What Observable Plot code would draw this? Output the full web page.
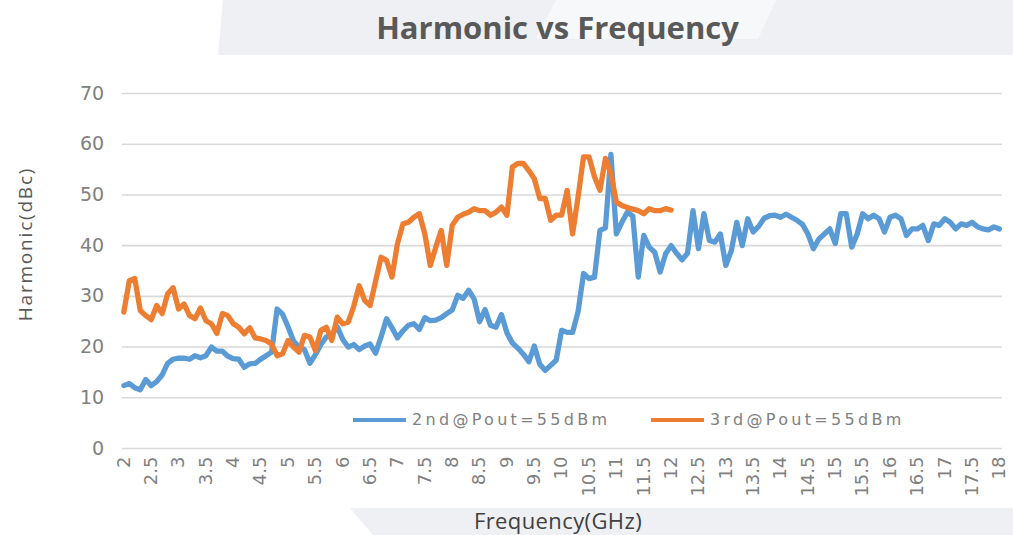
<!DOCTYPE html>
<html><head><meta charset="utf-8">
<script src="https://cdn.jsdelivr.net/npm/d3@7"></script>
<script src="https://cdn.jsdelivr.net/npm/@observablehq/plot@0.6"></script>
<style>
body{margin:0;background:#fff;}
#wrap{position:relative;width:1013px;height:535px;overflow:hidden;background:#fff;}
#bg{position:absolute;left:0;top:0;}
#chart{position:absolute;left:0;top:0;}
#title{position:absolute;top:6px;left:0;width:1115px;text-align:center;font-family:"Open Sans",sans-serif;font-weight:700;font-size:31px;color:#595959;letter-spacing:0px;}
#ylab{position:absolute;left:25px;top:244px;transform:translate(-50%,-50%) rotate(-90deg);font-family:"Open Sans",sans-serif;font-size:19px;letter-spacing:1.8px;color:#595959;white-space:nowrap;}
#xlab{position:absolute;left:558px;top:505px;transform:translateX(-50%);font-family:"Open Sans",sans-serif;font-size:22px;letter-spacing:0.4px;color:#404040;white-space:nowrap;}
.leg{position:absolute;top:410px;display:flex;align-items:center;font-family:"DejaVu Sans",sans-serif;font-size:16px;color:#808080;letter-spacing:3.3px;white-space:nowrap;}
.leg i{display:inline-block;width:53px;height:4px;margin-right:6px;}
</style></head>
<body>
<div id="wrap">
<svg id="bg" width="1013" height="535">
  <polygon points="223,0 1013,0 1013,55 218,55" fill="#eff0f4"/>
  <polygon points="556,0 776,0 758,39 536,39" fill="#f7f8fa"/>
  <polygon points="350,508 1013,508 1013,535 373,535" fill="#eff0f4"/>
</svg>
<div id="chart"></div>
<div id="title">Harmonic vs Frequency</div>
<div id="ylab">Harmonic(dBc)</div>
<div id="xlab">Frequency(GHz)</div>
<div class="leg" style="left:353px"><i style="background:#5B9BD5"></i><span id="l1"></span></div>
<div class="leg" style="left:651px"><i style="background:#ED7D31"></i><span id="l2"></span></div>
</div>
<script>
const seriesNames = ["2nd@Pout=55dBm", "3rd@Pout=55dBm"];
const seriesColors = ["#5B9BD5", "#ED7D31"];
const yTicks = [0, 10, 20, 30, 40, 50, 60, 70];
const xTicks = [2,2.5,3,3.5,4,4.5,5,5.5,6,6.5,7,7.5,8,8.5,9,9.5,10,10.5,11,11.5,12,12.5,13,13.5,14,14.5,15,15.5,16,16.5,17,17.5,18];
// frequency grid, GHz (0.1 GHz step)
const freqs = d3.range(161).map(i => Math.round(20 + i) / 10);
// 2nd harmonic, dBc, 2.0..18.0 GHz
const second = [
12.4,12.8,12.0,11.6,13.6,12.4,13.2,14.5,16.8,17.6,
17.8,17.8,17.6,18.3,17.9,18.3,20.0,19.2,19.2,18.2,
17.7,17.6,16.0,16.7,16.8,17.6,18.3,19.0,27.5,26.5,
24.0,21.2,20.0,19.5,16.8,18.5,20.5,22.0,22.5,24.0,
21.5,20.0,20.5,19.5,20.2,20.6,18.8,22.0,25.6,23.8,
21.8,23.2,24.3,24.6,23.5,25.8,25.2,25.3,25.8,26.6,
27.3,30.2,29.6,31.2,29.5,25.0,27.4,24.3,23.9,26.4,
22.8,20.8,19.8,18.6,17.1,20.2,16.6,15.4,16.4,17.4,
23.3,22.9,22.9,27.0,34.5,33.5,33.8,43.0,43.5,58.0,
42.3,44.6,46.6,45.8,33.8,42.0,39.7,38.7,34.8,38.4,
40.0,38.5,37.2,38.5,46.9,39.4,46.3,41.0,40.7,42.3,
36.1,39.0,44.6,40.0,45.3,42.7,43.8,45.4,45.9,46.0,
45.6,46.2,45.6,45.0,44.2,42.3,39.4,41.3,42.3,43.3,
40.4,46.3,46.3,39.7,42.3,46.3,45.3,46.0,45.3,42.7,
45.6,46.0,45.3,42.0,43.3,43.3,44.0,41.0,44.3,44.0,
45.3,44.6,43.3,44.3,44.0,44.6,43.7,43.3,43.1,43.7,
43.3];
// 3rd harmonic, dBc, 2.0..12.0 GHz
const third = [
26.9,33.1,33.5,27.2,26.2,25.4,28.2,26.6,30.5,31.7,
27.5,28.5,26.2,25.6,27.7,25.2,24.6,22.7,26.6,26.2,
24.6,23.9,22.6,23.8,21.8,21.6,21.3,20.6,18.3,18.7,
21.3,20.0,19.0,22.3,22.0,19.3,23.3,23.9,21.3,25.9,
24.6,24.9,28.0,32.1,29.2,28.2,33.0,37.7,37.1,33.8,
40.4,44.3,44.6,45.6,46.3,42.3,36.1,39.7,43.0,36.1,
44.0,45.6,46.2,46.6,47.3,46.9,46.9,46.0,46.6,47.6,
46.0,55.5,56.2,56.2,54.8,53.2,49.3,49.3,45.0,46.0,
46.0,50.9,42.3,49.6,57.5,57.5,53.6,50.9,57.2,54.2,
48.6,47.9,47.5,47.2,46.9,46.3,47.3,46.9,46.9,47.3,
47.0];

const rows = [
  ...second.map((v, i) => ({f: freqs[i], v, s: seriesNames[0]})),
  ...third.map((v, i) => ({f: freqs[i], v, s: seriesNames[1]}))
];

const chart = Plot.plot({
  width: 1013, height: 535,
  marginTop: 93, marginBottom: 87, marginLeft: 121.7, marginRight: 11.3,
  style: {background: "transparent", overflow: "visible"},
  x: {domain: [1.97, 18.05]},
  y: {domain: [0, 70]},
  color: {domain: seriesNames, range: seriesColors},
  marks: [
    Plot.gridY(yTicks, {stroke: "#d9d9d9", strokeOpacity: 1, strokeWidth: 1.6}),
    Plot.axisY(yTicks, {tickSize: 0, tickPadding: 18, fontSize: 19, fill: "#808080", fontFamily: "DejaVu Sans", label: null}),
    Plot.axisX(xTicks, {tickSize: 0, tickPadding: 8, tickRotate: -90, fontSize: 18, fill: "#808080", fontFamily: "DejaVu Sans", label: null, tickFormat: d => String(d)}),
    Plot.line(rows, {x: "f", y: "v", z: "s", stroke: "s", strokeWidth: 5.3, strokeLinejoin: "round", strokeLinecap: "round"})
  ]
});
document.getElementById("chart").appendChild(chart);
document.getElementById("l1").textContent = seriesNames[0];
document.getElementById("l2").textContent = seriesNames[1];
</script>
</body></html>
